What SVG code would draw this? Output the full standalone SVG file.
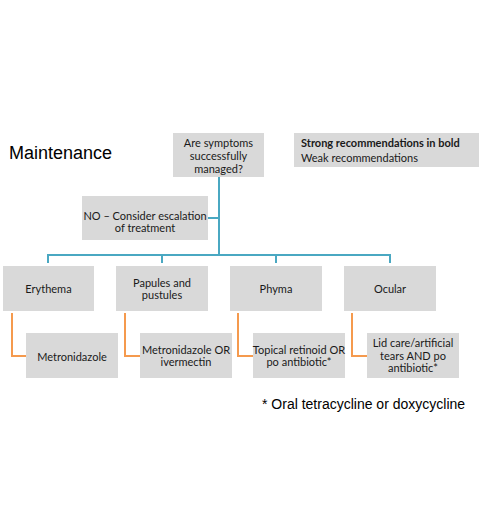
<svg xmlns="http://www.w3.org/2000/svg" width="479" height="511" viewBox="0 0 479 511">
<style>
.box{fill:#d9d9d9;}
.t{font-family:Lato,"Open Sans","Liberation Sans",sans-serif;font-size:11px;fill:#1a1a1a;text-anchor:middle;}
.tl{font-family:Lato,"Open Sans","Liberation Sans",sans-serif;font-size:11px;fill:#1a1a1a;}
.teal{fill:none;stroke:#4aa8c2;stroke-width:2;}
.orange{fill:none;stroke:#f59a4e;stroke-width:2;}
.a{font-family:"Liberation Sans",Arial,sans-serif;fill:#000;}
</style>
<rect width="479" height="511" fill="#fff"/>
<text class="a" x="9" y="159" font-size="18">Maintenance</text>
<g id="connectors">
<path class="teal" d="M219 177V255M208 218H219M48 263V255H390V263M162 255V263M276 255V263"/>
<path class="orange" d="M12 313V356H26M125 313V356H140M238 313V356H253M352 313V356H367"/>
</g>
<g id="q"><rect class="box" x="173" y="133" width="91" height="44"/>
<text class="t"><tspan x="218.5" y="147">Are symptoms</tspan><tspan x="218.5" y="160">successfully</tspan><tspan x="218.5" y="173">managed?</tspan></text></g>
<g id="legend"><rect class="box" x="294" y="133" width="185" height="34"/>
<text class="tl" x="301" y="147" font-weight="bold">Strong recommendations in bold</text>
<text class="tl" x="301" y="162">Weak recommendations</text></g>
<g id="no"><rect class="box" x="82" y="196" width="126" height="44"/>
<text class="t"><tspan x="145" y="220">NO – Consider escalation</tspan><tspan x="145" y="232">of treatment</tspan></text></g>
<g id="erythema"><rect class="box" x="3" y="266" width="91" height="45"/>
<text class="t" x="48.5" y="293">Erythema</text></g>
<g id="papules"><rect class="box" x="116" y="266" width="92" height="45"/>
<text class="t"><tspan x="162" y="287">Papules and</tspan><tspan x="162" y="299">pustules</tspan></text></g>
<g id="phyma"><rect class="box" x="230" y="266" width="92" height="45"/>
<text class="t" x="276" y="293">Phyma</text></g>
<g id="ocular"><rect class="box" x="344" y="266" width="92" height="45"/>
<text class="t" x="390" y="293">Ocular</text></g>
<g id="metro"><rect class="box" x="26" y="333" width="92" height="45"/>
<text class="t" x="72" y="361">Metronidazole</text></g>
<g id="metroiv"><rect class="box" x="140" y="333" width="92" height="45"/>
<text class="t"><tspan x="186" y="354">Metronidazole OR</tspan><tspan x="186" y="366">ivermectin</tspan></text></g>
<g id="topical"><rect class="box" x="253" y="333" width="92" height="45"/>
<text class="t"><tspan x="299" y="354">Topical retinoid OR</tspan><tspan x="299" y="366">po antibiotic*</tspan></text></g>
<g id="lid"><rect class="box" x="367" y="333" width="92" height="45"/>
<text class="t"><tspan x="413" y="347">Lid care/artificial</tspan><tspan x="413" y="360">tears AND po</tspan><tspan x="413" y="372">antibiotic*</tspan></text></g>
<text class="a" x="262" y="409" font-size="14">* Oral tetracycline or doxycycline</text>
</svg>
